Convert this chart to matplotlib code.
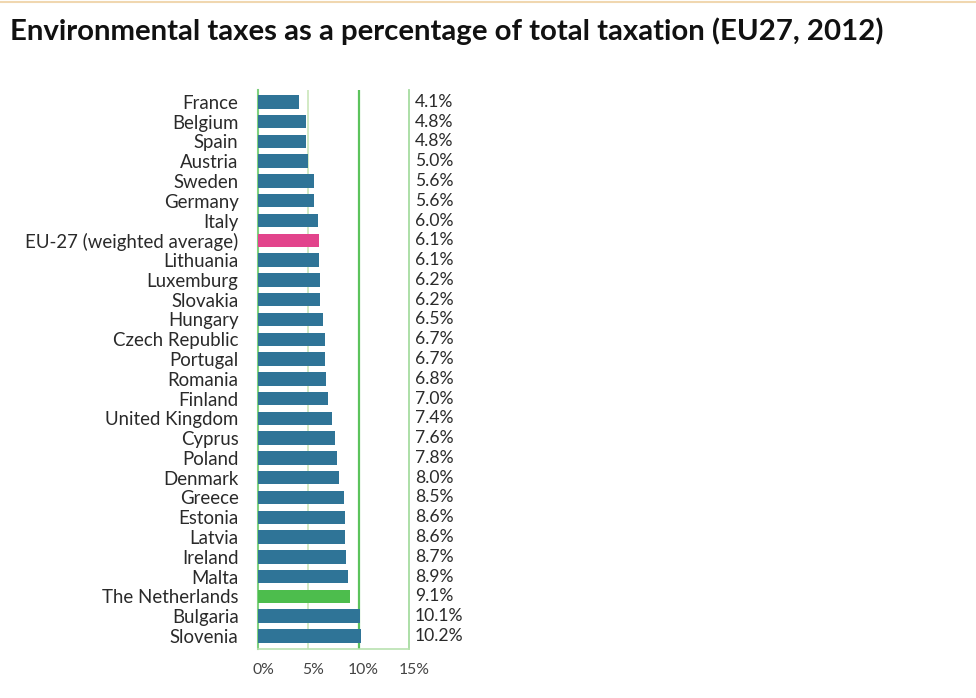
import matplotlib
matplotlib.use("Agg")
import matplotlib.pyplot as plt
import matplotlib.transforms as mtransforms

countries = ["France", "Belgium", "Spain", "Austria", "Sweden", "Germany", "Italy",
             "EU-27 (weighted average)", "Lithuania", "Luxemburg", "Slovakia", "Hungary",
             "Czech Republic", "Portugal", "Romania", "Finland", "United Kingdom", "Cyprus",
             "Poland", "Denmark", "Greece", "Estonia", "Latvia", "Ireland", "Malta",
             "The Netherlands", "Bulgaria", "Slovenia"]
values = [4.1, 4.8, 4.8, 5.0, 5.6, 5.6, 6.0, 6.1, 6.1, 6.2, 6.2, 6.5, 6.7, 6.7, 6.8,
          7.0, 7.4, 7.6, 7.8, 8.0, 8.5, 8.6, 8.6, 8.7, 8.9, 9.1, 10.1, 10.2]
xticks = [0, 5, 10, 15]
xticklabels = ["0%", "5%", "10%", "15%"]

blue = "#2f7497"
pink = "#e2448c"
green = "#4dbd4d"
colors = []
for c in countries:
    if c.startswith("EU-27"):
        colors.append(pink)
    elif c == "The Netherlands":
        colors.append(green)
    else:
        colors.append(blue)

plt.rcParams['font.family'] = ['Lato', 'DejaVu Sans']

fig = plt.figure(figsize=(9.76, 6.98), dpi=100)
ax = fig.add_axes([258/976, 1-649/698, (409-258)/976, (649-90)/698])

ypos = list(range(len(countries)))
ax.barh(ypos, values, height=0.68, color=colors, zorder=3)
ax.set_xlim(0, 15)
ax.set_ylim(len(countries) - 1 + 0.66, -0.6)

ax.axvline(5, color="#cfe8bf", lw=1.3, zorder=1)
ax.axvline(10, color="#5cc35c", lw=1.6, zorder=1)
ax.spines["top"].set_visible(False)
ax.spines["left"].set_color("#7fd07f")
ax.spines["left"].set_linewidth(1.5)
ax.spines["right"].set_color("#a6dca0")
ax.spines["right"].set_linewidth(1.3)
ax.spines["bottom"].set_color("#b9e2b0")
ax.spines["bottom"].set_linewidth(1.2)

ax.set_yticks(ypos)
ax.set_yticklabels(countries, fontsize=13.4, color="#2a2a2a")
ax.tick_params(axis="y", length=0, pad=14)
ax.set_xticks(xticks)
ax.set_xticklabels(xticklabels, fontsize=11.3, color="#444444")
ax.tick_params(axis="x", length=0, pad=10)
offset = mtransforms.ScaledTranslation(5/100, 0, fig.dpi_scale_trans)
for lbl in ax.get_xticklabels():
    lbl.set_transform(lbl.get_transform() + offset)

for y, v in zip(ypos, values):
    ax.text(1.04, y, f"{v:.1f}%", transform=ax.get_yaxis_transform(),
            va="center", ha="left", fontsize=12.6, color="#2a2a2a")

fig.text(10/976, 1-31/698, "Environmental taxes as a percentage of total taxation (EU27, 2012)",
         fontsize=21.2, fontweight="bold", color="#111111", va="center", ha="left")
fig.add_artist(plt.Line2D([0, 1], [1-2/698, 1-2/698], color="#f0d7b0", lw=1.5))

fig.savefig("out.png", dpi=100, facecolor="white")
